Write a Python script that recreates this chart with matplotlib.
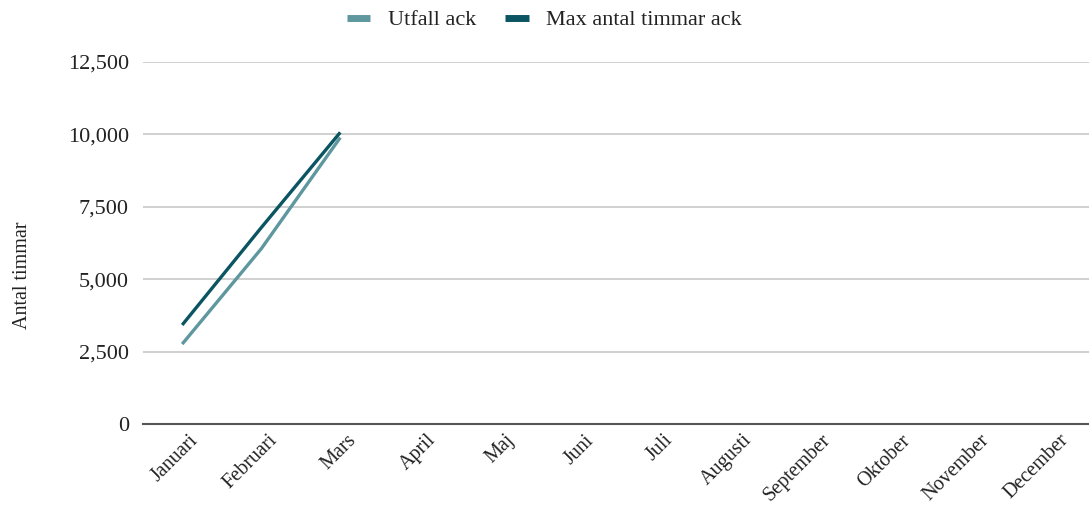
import matplotlib
matplotlib.use('Agg')
import matplotlib.pyplot as plt
import matplotlib.transforms as mtransforms
from matplotlib.ticker import FuncFormatter

# data
months = ['Januari', 'Februari', 'Mars', 'April', 'Maj', 'Juni', 'Juli',
          'Augusti', 'September', 'Oktober', 'November', 'December']
utfall_ack = [2760, 6050, 9890]
max_ack = [3420, 6780, 10070]
yticks = [0, 2500, 5000, 7500, 10000, 12500]

plt.rcParams['font.family'] = ['Liberation Serif', 'DejaVu Serif']

fig = plt.figure(figsize=(10.89, 5.07), dpi=100)
ax = fig.add_axes([0.131, 0.1637, 0.871, 0.714])

x = list(range(len(months)))
ax.plot(x[:len(utfall_ack)], utfall_ack, color='#5f979f', lw=2.4, label='Utfall ack',
        solid_capstyle='butt')
ax.plot(x[:len(max_ack)], max_ack, color='#0b5563', lw=2.4, label='Max antal timmar ack',
        solid_capstyle='butt')

ax.set_xlim(-0.5, len(months) - 0.5)
ax.set_ylim(0, 12500)
ax.set_yticks(yticks)
ax.yaxis.set_major_formatter(FuncFormatter(lambda v, p: f'{int(v):,}'))
ax.grid(axis='y', color='#c8c8c8', lw=1.2)
ax.set_axisbelow(True)
for s in ['top', 'right', 'left']:
    ax.spines[s].set_visible(False)
ax.spines['bottom'].set_color('#555555')
ax.spines['bottom'].set_linewidth(1.5)
ax.tick_params(axis='both', length=0, labelsize=16, colors='#222222')
ax.tick_params(axis='y', pad=10)

ax.set_xticks(x)
ax.set_xticklabels(months, rotation=45, ha='right', rotation_mode='anchor', fontsize=14.5)
ax.tick_params(axis='x', pad=5)
shift = mtransforms.ScaledTranslation(0.07, 0, fig.dpi_scale_trans)
for lab in ax.get_xticklabels():
    lab.set_transform(lab.get_transform() + shift)

ax.set_ylabel('Antal timmar', fontsize=14.5, color='#222222')
ax.yaxis.set_label_coords(-0.117, 0.41)

leg = fig.legend(loc='upper center', bbox_to_anchor=(0.5, 1.02), ncol=2, frameon=False,
                 fontsize=16, handlelength=1.05, handletextpad=0.8, columnspacing=1.3)
for h in leg.get_lines():
    h.set_linewidth(5)
for t in leg.get_texts():
    t.set_color('#222222')

fig.savefig('out.png', dpi=100)
